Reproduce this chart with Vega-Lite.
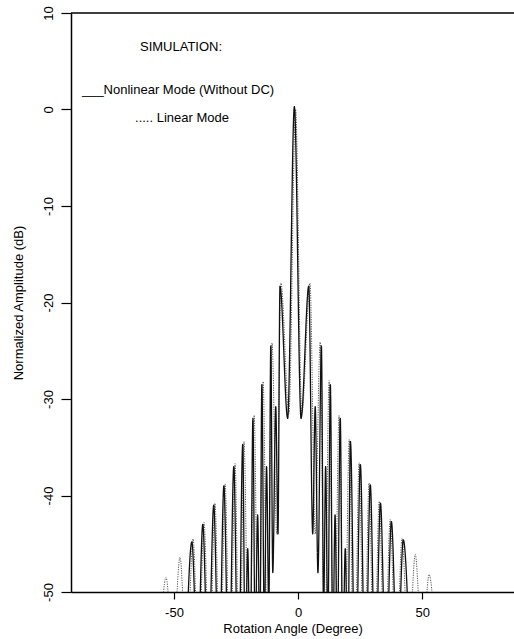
{
  "$schema": "https://vega.github.io/schema/vega-lite/v6.json",
  "autosize": {"type": "none"},
  "padding": {"left": 71, "top": 13, "right": 0, "bottom": 47},
  "width": 443,
  "height": 579,
  "background": "white",
  "config": {
    "view": {"stroke": null},
    "font": "Liberation Sans",
    "axis": {"grid": false, "domainColor": "black", "tickColor": "black", "labelColor": "black", "titleColor": "black", "labelFont": "Liberation Sans", "titleFont": "Liberation Sans", "labelFontSize": 13, "titleFontSize": 13, "titleFontWeight": "normal", "domainWidth": 1.5, "tickWidth": 1.2}
  },
  "datasets": {
    "pattern": [
      {"s": "Linear", "x": -55.8, "y": -56}, {"s": "Linear", "x": -53.2, "y": -48.5}, {"s": "Linear", "x": -50.4, "y": -56},
      {"s": "Linear", "x": -47.6, "y": -46.4}, {"s": "Linear", "x": -44.9, "y": -57}, {"s": "Linear", "x": -42.3, "y": -44.5},
      {"s": "Linear", "x": -40.1, "y": -58}, {"s": "Linear", "x": -37.9, "y": -42.8}, {"s": "Linear", "x": -35.7, "y": -59},
      {"s": "Linear", "x": -33.5, "y": -40.8}, {"s": "Linear", "x": -31.4, "y": -60}, {"s": "Linear", "x": -29.4, "y": -38.8},
      {"s": "Linear", "x": -27.4, "y": -61}, {"s": "Linear", "x": -25.4, "y": -36.7}, {"s": "Linear", "x": -23.6, "y": -62},
      {"s": "Linear", "x": -21.8, "y": -34.4}, {"s": "Linear", "x": -19.7, "y": -63}, {"s": "Linear", "x": -17.7, "y": -31.7},
      {"s": "Linear", "x": -15.9, "y": -62}, {"s": "Linear", "x": -14.1, "y": -28.2}, {"s": "Linear", "x": -12.3, "y": -58},
      {"s": "Linear", "x": -10.5, "y": -24.2}, {"s": "Linear", "x": -8.6, "y": -44}, {"s": "Linear", "x": -6.9, "y": -18.0},
      {"s": "Linear", "x": -3.7, "y": -31.5}, {"s": "Linear", "x": -1.0, "y": 0.0}, {"s": "Linear", "x": 1.5, "y": -31.5},
      {"s": "Linear", "x": 4.8, "y": -18.0}, {"s": "Linear", "x": 6.9, "y": -44}, {"s": "Linear", "x": 8.9, "y": -24.1},
      {"s": "Linear", "x": 10.7, "y": -58}, {"s": "Linear", "x": 12.5, "y": -28.1}, {"s": "Linear", "x": 14.5, "y": -62},
      {"s": "Linear", "x": 16.5, "y": -31.7}, {"s": "Linear", "x": 18.6, "y": -63}, {"s": "Linear", "x": 20.6, "y": -34.2},
      {"s": "Linear", "x": 22.6, "y": -62}, {"s": "Linear", "x": 24.6, "y": -36.6}, {"s": "Linear", "x": 26.6, "y": -61},
      {"s": "Linear", "x": 28.6, "y": -38.7}, {"s": "Linear", "x": 30.6, "y": -60}, {"s": "Linear", "x": 32.7, "y": -40.6},
      {"s": "Linear", "x": 34.9, "y": -59}, {"s": "Linear", "x": 37.1, "y": -42.5}, {"s": "Linear", "x": 39.5, "y": -58},
      {"s": "Linear", "x": 41.9, "y": -44.4}, {"s": "Linear", "x": 44.5, "y": -57}, {"s": "Linear", "x": 47.2, "y": -46.1},
      {"s": "Linear", "x": 50.0, "y": -56}, {"s": "Linear", "x": 52.8, "y": -48.2}, {"s": "Linear", "x": 55.5, "y": -56},

      {"s": "Nonlinear", "x": -45.2, "y": -57}, {"s": "Nonlinear", "x": -42.8, "y": -44.8}, {"s": "Nonlinear", "x": -40.5, "y": -58},
      {"s": "Nonlinear", "x": -38.4, "y": -43.0}, {"s": "Nonlinear", "x": -36.2, "y": -59}, {"s": "Nonlinear", "x": -34.0, "y": -41.0},
      {"s": "Nonlinear", "x": -31.9, "y": -60}, {"s": "Nonlinear", "x": -29.9, "y": -39.0}, {"s": "Nonlinear", "x": -27.9, "y": -61},
      {"s": "Nonlinear", "x": -25.9, "y": -37.0}, {"s": "Nonlinear", "x": -24.1, "y": -62}, {"s": "Nonlinear", "x": -22.3, "y": -34.7},
      {"s": "Nonlinear", "x": -21.3, "y": -58}, {"s": "Nonlinear", "x": -20.3, "y": -45.5}, {"s": "Nonlinear", "x": -19.3, "y": -58},
      {"s": "Nonlinear", "x": -18.2, "y": -32.0}, {"s": "Nonlinear", "x": -17.3, "y": -56}, {"s": "Nonlinear", "x": -16.3, "y": -42.0},
      {"s": "Nonlinear", "x": -15.4, "y": -56}, {"s": "Nonlinear", "x": -14.6, "y": -28.5}, {"s": "Nonlinear", "x": -13.6, "y": -54},
      {"s": "Nonlinear", "x": -12.7, "y": -37.0}, {"s": "Nonlinear", "x": -11.8, "y": -52}, {"s": "Nonlinear", "x": -11.0, "y": -24.5},
      {"s": "Nonlinear", "x": -10.2, "y": -48}, {"s": "Nonlinear", "x": -9.0, "y": -30.8}, {"s": "Nonlinear", "x": -8.1, "y": -44},
      {"s": "Nonlinear", "x": -7.3, "y": -18.3}, {"s": "Nonlinear", "x": -4.2, "y": -32}, {"s": "Nonlinear", "x": -1.5, "y": 0.3},
      {"s": "Nonlinear", "x": 1.2, "y": -32}, {"s": "Nonlinear", "x": 4.3, "y": -18.3}, {"s": "Nonlinear", "x": 5.9, "y": -44},
      {"s": "Nonlinear", "x": 6.9, "y": -30.8}, {"s": "Nonlinear", "x": 8.0, "y": -48}, {"s": "Nonlinear", "x": 9.4, "y": -24.5},
      {"s": "Nonlinear", "x": 10.3, "y": -52}, {"s": "Nonlinear", "x": 11.1, "y": -37.0}, {"s": "Nonlinear", "x": 12.0, "y": -54},
      {"s": "Nonlinear", "x": 13.0, "y": -28.5}, {"s": "Nonlinear", "x": 14.0, "y": -56}, {"s": "Nonlinear", "x": 14.9, "y": -42.0},
      {"s": "Nonlinear", "x": 15.8, "y": -56}, {"s": "Nonlinear", "x": 17.0, "y": -32.0}, {"s": "Nonlinear", "x": 18.0, "y": -58},
      {"s": "Nonlinear", "x": 19.0, "y": -45.5}, {"s": "Nonlinear", "x": 20.0, "y": -58}, {"s": "Nonlinear", "x": 21.1, "y": -34.4},
      {"s": "Nonlinear", "x": 23.1, "y": -62}, {"s": "Nonlinear", "x": 25.1, "y": -36.8}, {"s": "Nonlinear", "x": 27.1, "y": -61},
      {"s": "Nonlinear", "x": 29.1, "y": -38.9}, {"s": "Nonlinear", "x": 31.1, "y": -60}, {"s": "Nonlinear", "x": 33.2, "y": -40.8},
      {"s": "Nonlinear", "x": 35.4, "y": -59}, {"s": "Nonlinear", "x": 37.6, "y": -42.7}, {"s": "Nonlinear", "x": 40.0, "y": -58},
      {"s": "Nonlinear", "x": 42.4, "y": -44.6}, {"s": "Nonlinear", "x": 45.0, "y": -57}
    ],
    "one": [{}]
  },
  "layer": [
    {
      "data": {"name": "pattern"},
      "mark": {"type": "line", "interpolate": "monotone", "clip": true},
      "encoding": {
        "x": {"field": "x", "type": "quantitative", "scale": {"domain": [-91.5, 87], "nice": false, "zero": false},
          "axis": {"values": [-50, 0, 50], "title": "Rotation Angle (Degree)", "tickSize": 7, "labelPadding": 7, "titlePadding": 3, "labelFlush": false, "labelExpr": "'' + datum.value"}},
        "y": {"field": "y", "type": "quantitative", "scale": {"domain": [-50, 10], "nice": false, "zero": false},
          "axis": {"values": [-50, -40, -30, -20, -10, 0, 10], "title": "Normalized Amplitude (dB)", "tickSize": 10, "labelAngle": -90, "labelAlign": "center", "labelBaseline": "bottom", "labelPadding": 6, "titlePadding": 17, "labelFlush": false, "labelExpr": "'' + datum.value"}},
        "color": {"field": "s", "type": "nominal", "scale": {"domain": ["Nonlinear", "Linear"], "range": ["#111111", "#555555"]}, "legend": null},
        "strokeDash": {"field": "s", "type": "nominal", "scale": {"domain": ["Nonlinear", "Linear"], "range": [[1, 0], [1.2, 1.2]]}, "legend": null},
        "strokeWidth": {"field": "s", "type": "nominal", "scale": {"domain": ["Nonlinear", "Linear"], "range": [1.3, 1]}, "legend": null}
      }
    },
    {
      "data": {"name": "one"},
      "mark": {"type": "rule", "color": "black", "strokeWidth": 1.5},
      "encoding": {"y": {"datum": 10}}
    },
    {
      "data": {"name": "one"},
      "mark": {"type": "text", "align": "left", "baseline": "middle", "fontSize": 13, "font": "Liberation Sans", "color": "black"},
      "encoding": {"x": {"datum": -63.7}, "y": {"datum": 6.5}, "text": {"value": "SIMULATION:"}}
    },
    {
      "data": {"name": "one"},
      "mark": {"type": "text", "align": "left", "baseline": "middle", "fontSize": 13, "font": "Liberation Sans", "color": "black"},
      "encoding": {"x": {"datum": -87.1}, "y": {"datum": 2.0}, "text": {"value": "___Nonlinear Mode (Without DC)"}}
    },
    {
      "data": {"name": "one"},
      "mark": {"type": "text", "align": "left", "baseline": "middle", "fontSize": 13, "font": "Liberation Sans", "color": "black"},
      "encoding": {"x": {"datum": -65.7}, "y": {"datum": -0.9}, "text": {"value": "..... Linear Mode"}}
    }
  ]
}
